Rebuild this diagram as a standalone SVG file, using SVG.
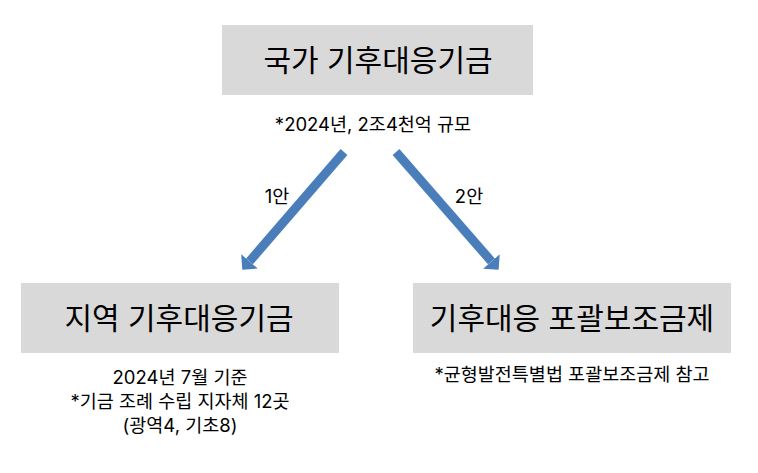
<svg xmlns="http://www.w3.org/2000/svg" width="758" height="473" viewBox="0 0 758 473">
<style>
.box{fill:#d9d9d9}
.t{font-family:Inter,"Noto Sans CJK KR","Noto Sans",sans-serif;fill:#000;text-anchor:middle}
.big{font-size:30px}
.sm{font-size:18.5px}
.conn{stroke:#4a7ebb;stroke-width:9;fill:none}
</style>
<defs>
<marker id="ah" markerUnits="userSpaceOnUse" markerWidth="12" markerHeight="22" refX="0" refY="10.5" orient="auto" viewBox="0 0 11 21">
<path d="M0,0 L10.5,10.5 L0,21 Z" fill="#4a7ebb"/>
</marker>
</defs>
<g id="national">
<rect class="box" x="222" y="25" width="311" height="70"/>
<text class="t big" x="378" y="71">국가 기후대응기금</text>
<text class="t sm" x="373" y="131">*2024년, 2조4천억 규모</text>
</g>
<g id="regional">
<rect class="box" x="21" y="283" width="318" height="70"/>
<text class="t big" x="179" y="329">지역 기후대응기금</text>
<text class="t sm" x="180" y="384">2024년 7월 기준</text>
<text class="t sm" x="180" y="408">*기금 조례 수립 지자체 12곳</text>
<text class="t sm" x="180" y="432">(광역4, 기초8)</text>
</g>
<g id="grant">
<rect class="box" x="413" y="283" width="318" height="70"/>
<text class="t big" x="572" y="329">기후대응 포괄보조금제</text>
<text class="t sm" x="572" y="381">*균형발전특별법 포괄보조금제 참고</text>
</g>
<g id="connectors">
<line class="conn" x1="344" y1="152" x2="249.5" y2="261.4" marker-end="url(#ah)"/>
<line class="conn" x1="396" y1="152" x2="491.4" y2="261.4" marker-end="url(#ah)"/>
<text class="t sm" x="277" y="203">1안</text>
<text class="t sm" x="469" y="203">2안</text>
</g>
</svg>
